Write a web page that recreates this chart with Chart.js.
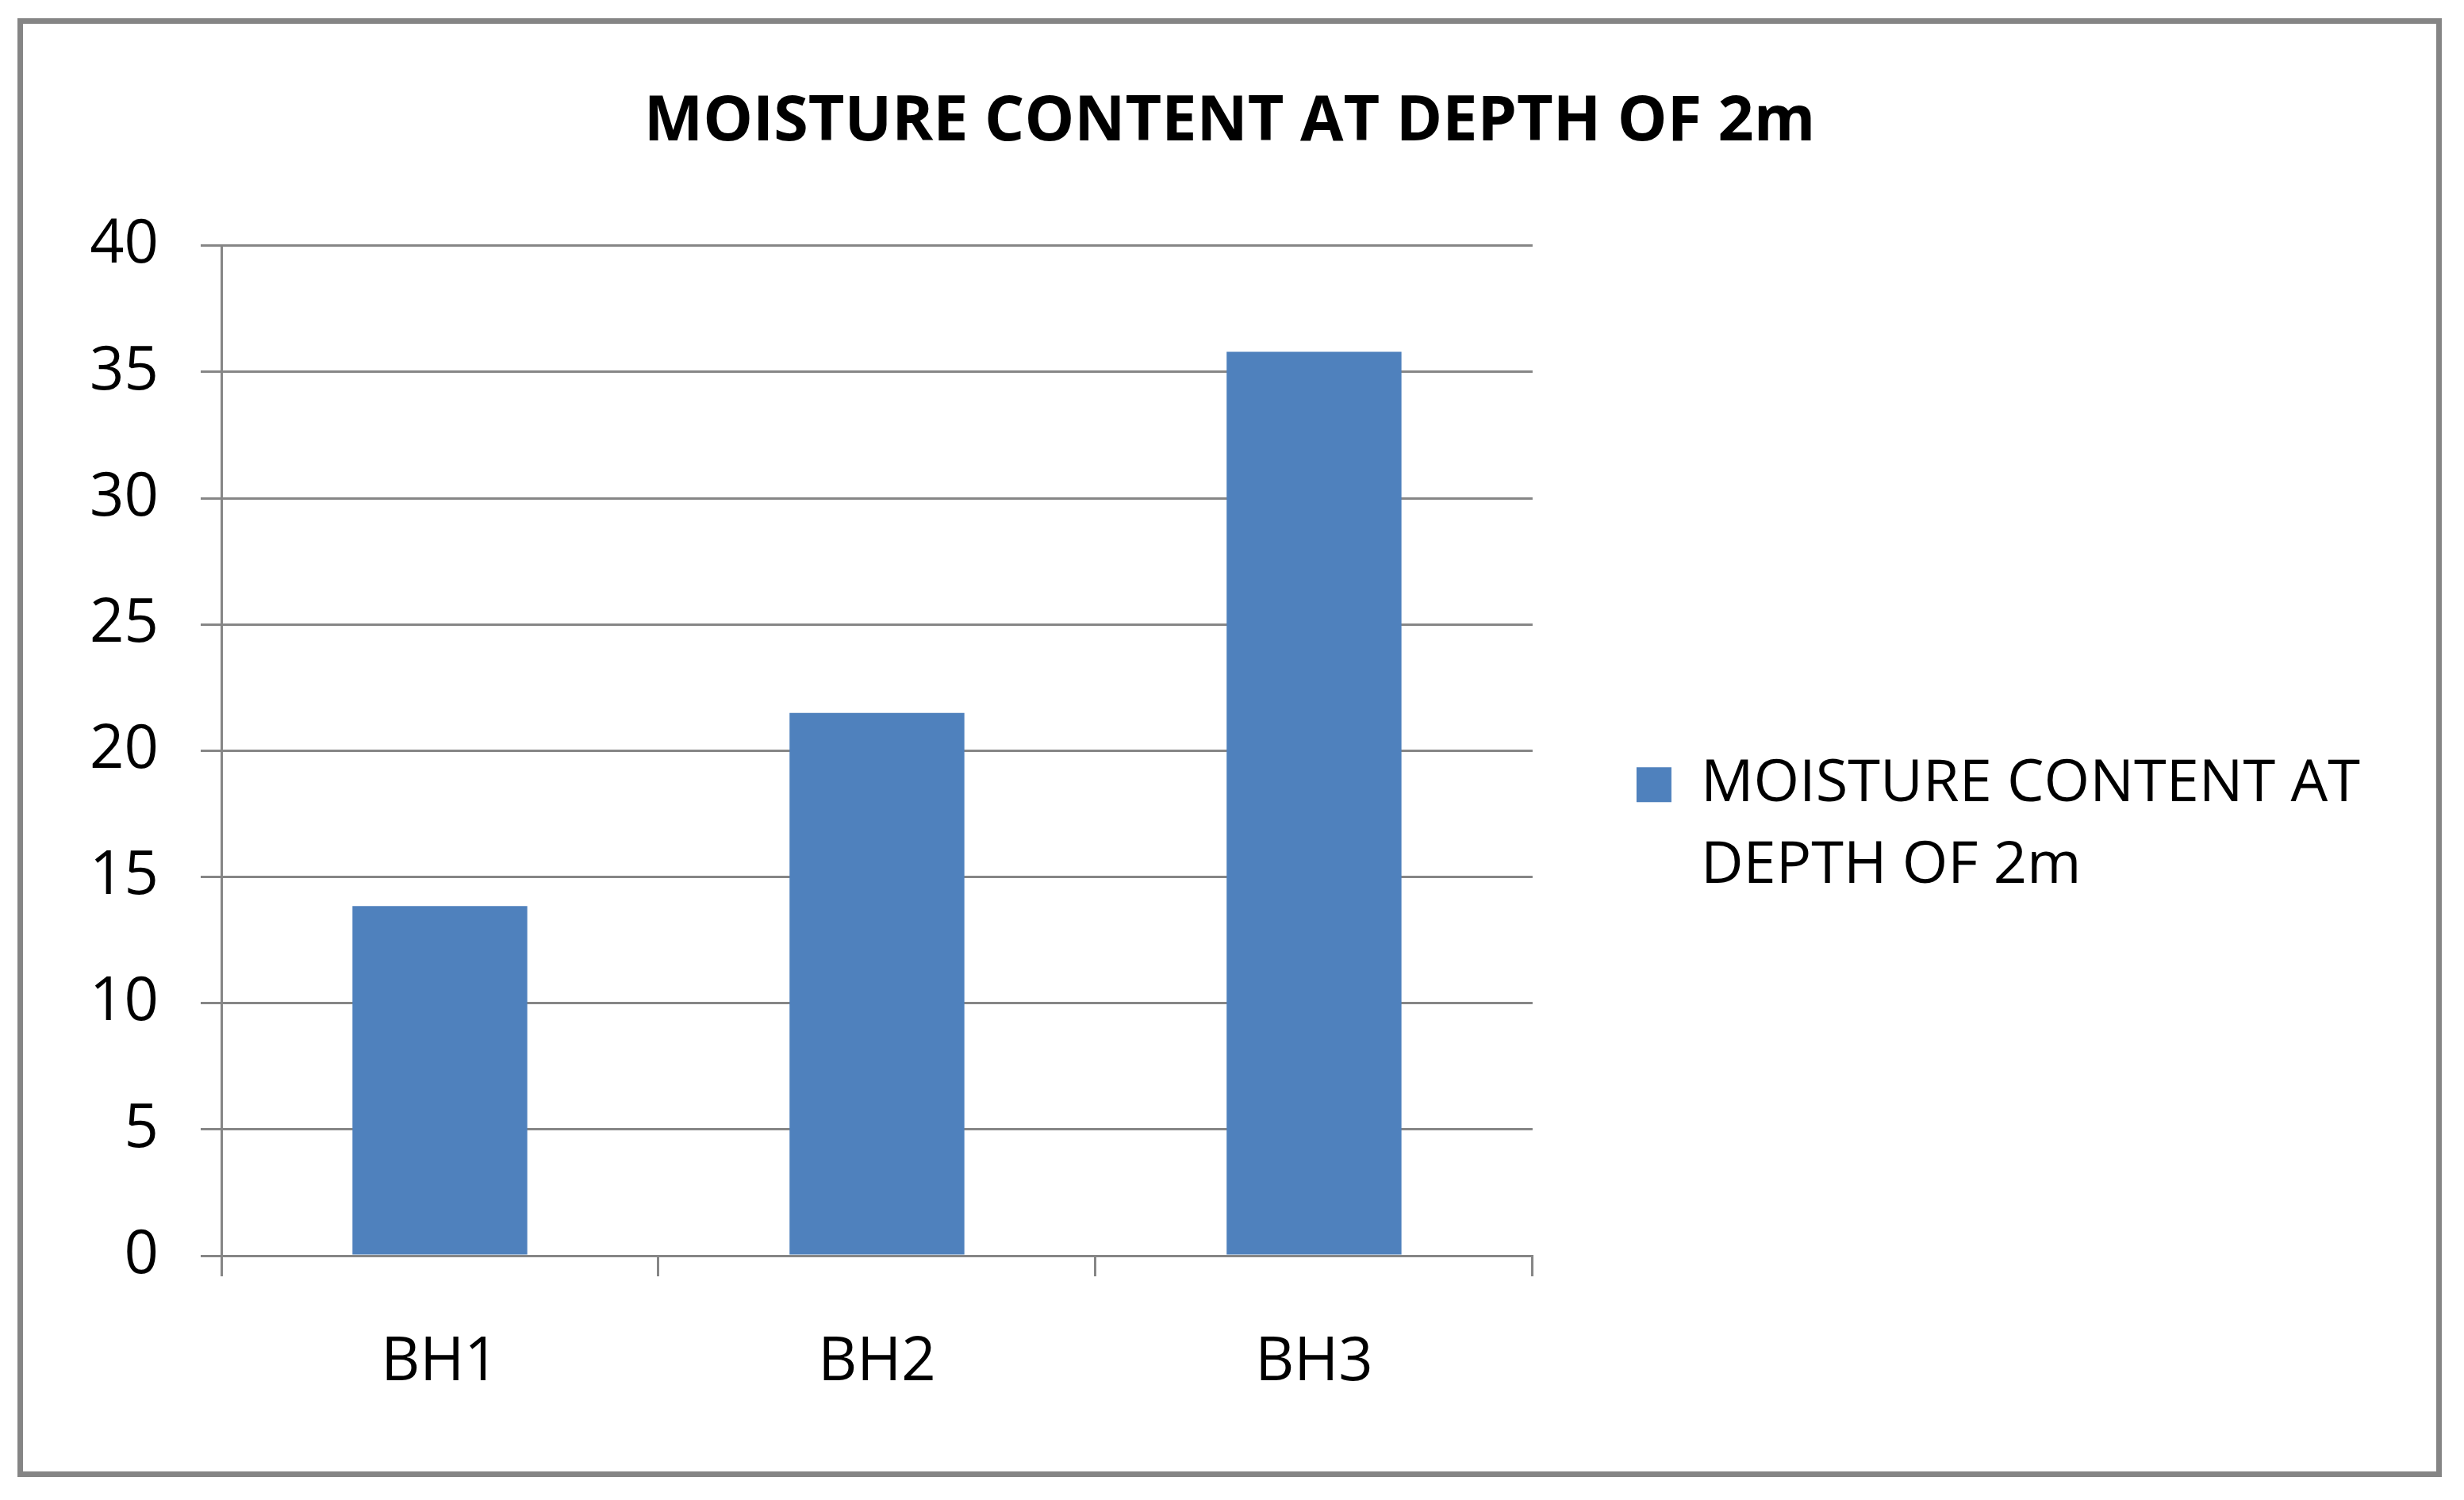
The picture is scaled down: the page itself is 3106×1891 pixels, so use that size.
<!DOCTYPE html>
<html lang="en">
<head>
  <meta charset="UTF-8" />
  <title>Moisture Content at Depth of 2m</title>
  <script src="https://cdn.jsdelivr.net/npm/chart.js"></script>
  <style>
    html, body { margin: 0; padding: 0; background: #fff; }
    body { width: 3106px; height: 1891px; position: relative; overflow: hidden; }
    .frame { position: absolute; left: 22px; top: 23px; width: 3042px; height: 1825px; border: 7px solid #858585; }
    canvas { display: block; }
  </style>
</head>
<body>
  <div class="frame"><canvas id="moistureChart"></canvas></div>

  <script>
    // data
    const boreholes = ['BH1', 'BH2', 'BH3'];
    const moistureContent = [13.85, 21.5, 35.8];
    const seriesLabel = ['MOISTURE CONTENT AT', 'DEPTH OF 2m'];
    const chartTitle = 'MOISTURE CONTENT AT DEPTH OF 2m';
    const yMin = 0, yMax = 40, yStep = 5;

    const gridGray = '#868686';
    const font = 'Open Sans';
    const sidePad = 86; // same on both sides so the title stays centred on the frame

    Chart.defaults.font.family = font;
    Chart.defaults.color = '#000';

    const ctx = document.getElementById('moistureChart').getContext('2d');
    new Chart(ctx, {
      type: 'bar',
      data: {
        labels: boreholes,
        datasets: [{
          label: seriesLabel,
          data: moistureContent,
          backgroundColor: '#4F81BD',
          borderWidth: 0,
          barPercentage: 0.4,
          categoryPercentage: 1
        }]
      },
      options: {
        responsive: true,
        maintainAspectRatio: false,
        animation: false,
        layout: { padding: { left: sidePad, right: sidePad, top: 0, bottom: 0 } },
        plugins: {
          title: {
            display: true,
            text: chartTitle,
            font: { size: 79, weight: 'bold' },
            padding: { top: 77, bottom: 108 }
          },
          legend: {
            position: 'right',
            maxWidth: 2000,
            // blank title just pushes the legend item down a bit, like the original
            title: { display: true, text: ' ', font: { size: 10, lineHeight: 1 }, padding: { top: 108, bottom: 107 } },
            labels: {
              boxWidth: 44,
              boxHeight: 44,
              padding: 131,
              font: { size: 74, lineHeight: 1.39 }
            }
          },
          tooltip: { enabled: false }
        },
        scales: {
          x: {
            afterFit: s => { s.height = 272; },
            grid: { drawOnChartArea: false, drawTicks: true, tickLength: 26, color: gridGray, lineWidth: 3 },
            border: { display: true, color: gridGray, width: 3 },
            ticks: { font: { size: 76 }, padding: 64 }
          },
          y: {
            min: yMin,
            max: yMax,
            afterFit: s => { s.width = 250 - sidePad; },
            grid: { color: gridGray, lineWidth: 3, tickLength: 26 },
            border: { display: true, color: gridGray, width: 3 },
            ticks: { stepSize: yStep, font: { size: 76 }, padding: 53 }
          }
        }
      }
    });
  </script>
</body>
</html>
